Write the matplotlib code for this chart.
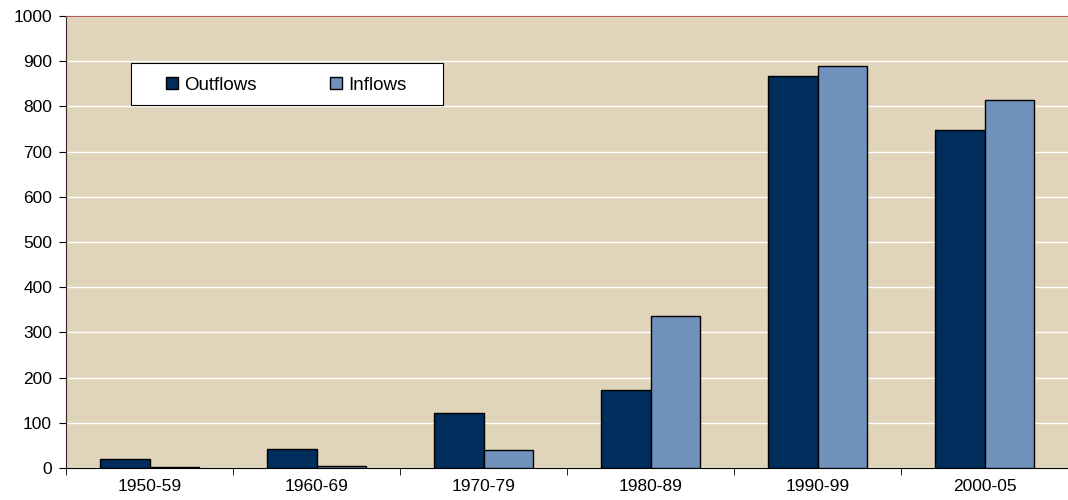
import numpy as np
import matplotlib.pyplot as plt
from matplotlib.patches import Rectangle

plt.rcParams['font.family'] = ['Liberation Sans', 'DejaVu Sans']

periods = ['1950-59', '1960-69', '1970-79', '1980-89', '1990-99', '2000-05']
outflows = [20, 41, 122, 173, 867, 748]
inflows = [3, 5, 40, 336, 889, 814]

fig = plt.figure(figsize=(10.68, 5.0), dpi=100)
ax = fig.add_axes([66 / 1068, 32 / 500, 1002 / 1068, 452 / 500])
ax.set_facecolor('#E0D4BA')

x = np.arange(len(periods))
w = 0.295
ax.bar(x - w / 2, outflows, w, color='#002D5C', edgecolor='black', linewidth=1, label='Outflows', zorder=3)
ax.bar(x + w / 2, inflows, w, color='#7191BD', edgecolor='black', linewidth=1, label='Inflows', zorder=3)

ax.set_xlim(-0.5, len(periods) - 0.5)
ax.set_ylim(0, 1000)
ax.set_yticks(range(0, 1001, 100))
ax.yaxis.grid(True, color='white', linewidth=1, zorder=1)
ax.set_axisbelow(True)

ax.set_xticks(x)
ax.set_xticklabels(periods, fontsize=12.5)
ax.set_xticks(np.arange(-0.5, len(periods)), minor=True)
ax.tick_params(axis='x', which='major', length=0, pad=8)
ax.tick_params(axis='x', which='minor', length=5, direction='out', color='black')
ax.tick_params(axis='y', length=5, direction='out', labelsize=12.5, pad=5)

ax.spines['top'].set_color('#B05A5A')
ax.spines['right'].set_visible(False)
ax.spines['left'].set_color('#3A2424')
ax.spines['bottom'].set_color('black')

# legend frame drawn separately so the box can be wider than its entries
ax.add_patch(Rectangle((65 / 1002, 363 / 452), 312 / 1002, 42 / 452, transform=ax.transAxes,
                       facecolor='white', edgecolor='black', linewidth=0.8, zorder=4))
leg = ax.legend(loc='center left', bbox_to_anchor=(100 / 1002, 383 / 452), ncol=2,
                frameon=False, fontsize=13.5, handlelength=0.65, handleheight=0.65,
                handletextpad=0.33, columnspacing=3.9, borderpad=0, borderaxespad=0)
leg.set_zorder(5)

fig.savefig('out.png', dpi=100)
